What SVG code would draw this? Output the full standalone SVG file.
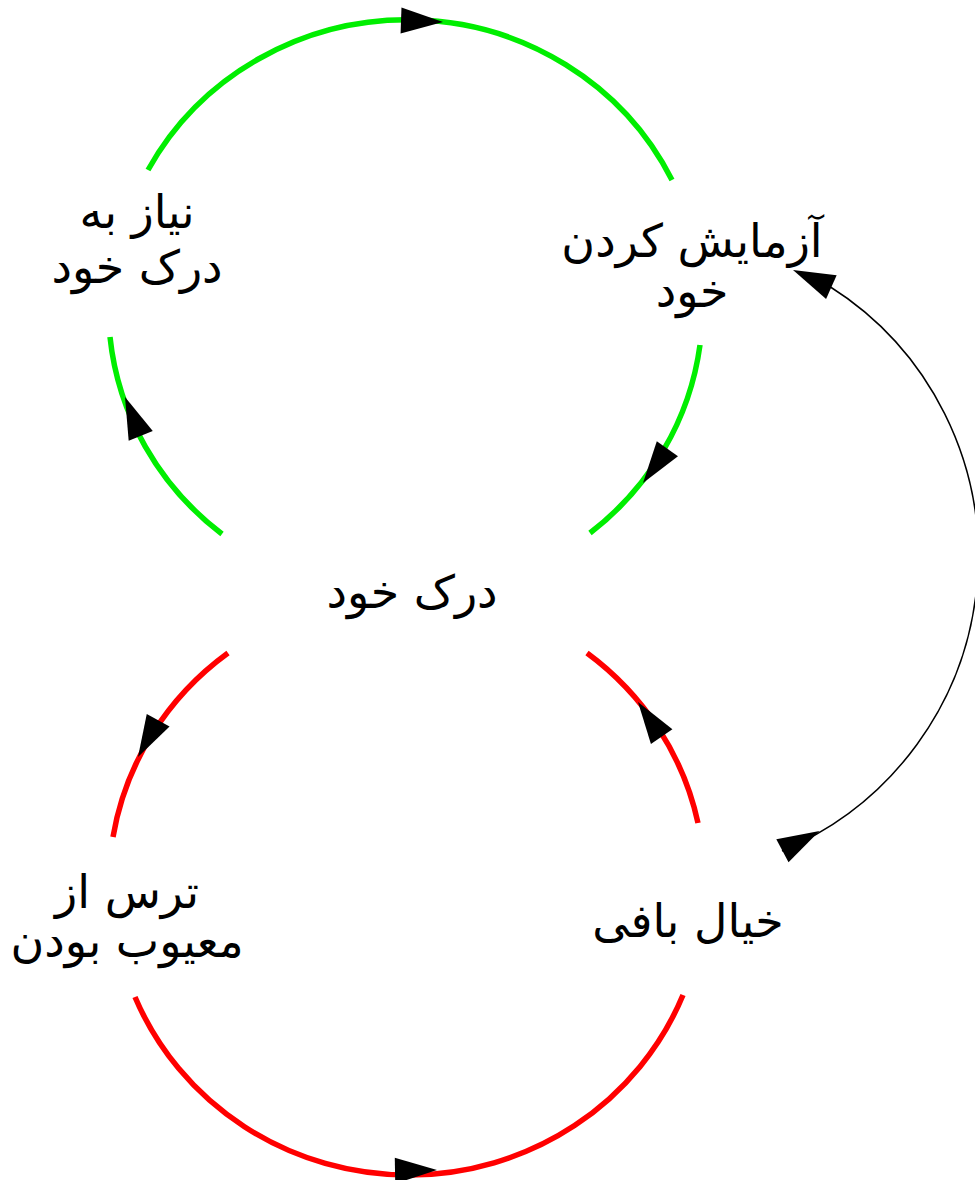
<svg xmlns="http://www.w3.org/2000/svg" xmlns:xlink="http://www.w3.org/1999/xlink" width="975" height="1180" viewBox="0 0 975 1180">
<style>
.g{fill:none;stroke:#00ee00;stroke-width:5.5}
.r{fill:none;stroke:#ff0000;stroke-width:5.5}
.k{fill:none;stroke:#000;stroke-width:1.5}
.ah{fill:#000}
.t{font-family:"DejaVu Sans","Noto Sans",sans-serif;font-size:46px;fill:#000;text-anchor:middle}
</style>
<defs>
<path id="ah" d="M0,0 L-42,-13 L-42,13 Z"/>
</defs>
<rect width="975" height="1180" fill="#fff"/>
<g id="connectors">
<path class="g" d="M148,170 A295,287 0 0 1 672,180"/>
<path class="g" d="M222,534 A295,287 0 0 1 110,337"/>
<path class="g" d="M700,345 A295,287 0 0 1 590,533"/>
<path class="r" d="M135,997 A296,288 0 0 0 683,995"/>
<path class="r" d="M228,653 A296,288 0 0 0 113,837"/>
<path class="r" d="M587,653 A296,288 0 0 1 698,823"/>
<path class="k" d="M782,851 A319.4,319.4 0 0 0 829,286"/>
<use href="#ah" class="ah" transform="translate(443,22) rotate(2)"/>
<use href="#ah" class="ah" transform="translate(125,397) rotate(-112)"/>
<use href="#ah" class="ah" transform="translate(643,483) rotate(125.5)"/>
<use href="#ah" class="ah" transform="translate(138,757) rotate(118.7)"/>
<use href="#ah" class="ah" transform="translate(638,702) rotate(-124.3)"/>
<use href="#ah" class="ah" transform="translate(437,1170) rotate(-1)"/>
<use href="#ah" class="ah" transform="translate(793,270) rotate(-156)"/>
<use href="#ah" class="ah" transform="translate(819.5,831) rotate(-28)"/>
</g>
<g id="n-need">
<text class="t" x="137" y="228">نیاز به</text>
<text class="t" x="137" y="283">درک خود</text>
</g>
<g id="n-test">
<text class="t" x="692" y="257">آزمایش کردن</text>
<text class="t" x="692" y="307">خود</text>
</g>
<g id="n-self">
<text class="t" x="412" y="608">درک خود</text>
</g>
<g id="n-fear">
<text class="t" x="127" y="908">ترس از</text>
<text class="t" x="127" y="957">معیوب بودن</text>
</g>
<g id="n-fantasy">
<text class="t" x="688" y="937">خیال بافی</text>
</g>
</svg>
